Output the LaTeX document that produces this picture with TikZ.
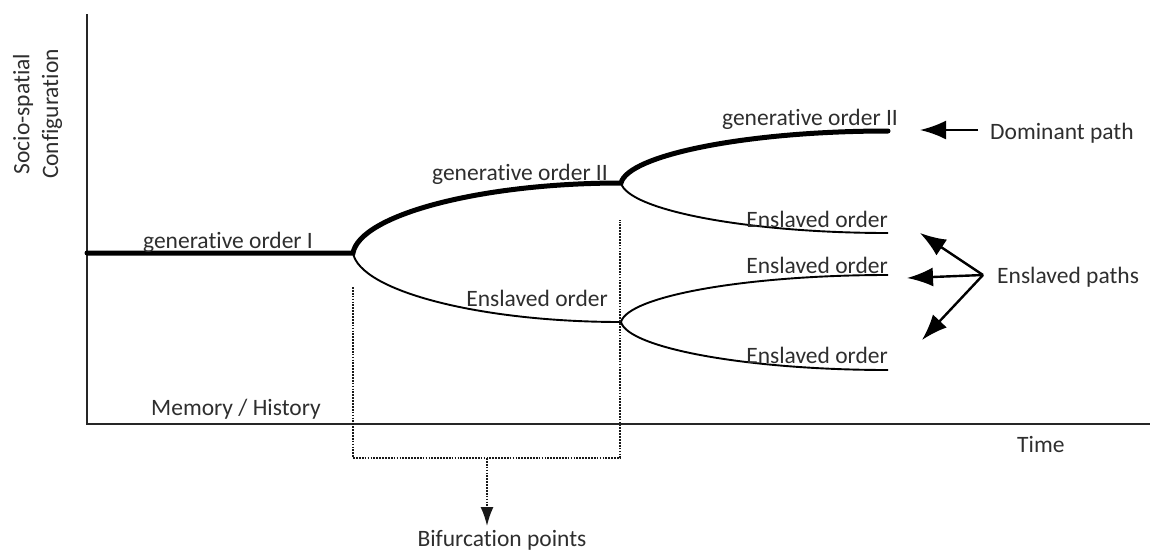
\documentclass[tikz,border=0pt]{standalone}
\usepackage{fontspec}
\setmainfont{Carlito}[Ligatures=NoCommon]
\usetikzlibrary{arrows.meta}
\begin{document}
\begin{tikzpicture}[x=1pt,y=-1pt,
  lbl/.style={text=black!82, font=\fontsize{23.5}{27}\selectfont, inner sep=0pt},
  axisline/.style={line width=1.5pt, draw=black!85},
  mainpath/.style={line width=5pt, line cap=round},
  sidepath/.style={line width=1.9pt},
  dotline/.style={line width=1.7pt, dash pattern=on 1.7pt off 1.2pt, draw=black!90},
  pointer/.style={line width=2.4pt, -{Latex[length=26pt,width=19pt]}},
]
\useasboundingbox (0,0) rectangle (1150,552);

% axes
\coordinate (ytop) at (87,14);
\coordinate (orig) at (87,424);
\coordinate (xend) at (1150,424);
\draw[axisline] (ytop) -- (orig) -- (xend);

% branching points and path ends
\coordinate (start) at (87,253);
\coordinate (b1)  at (353,253);
\coordinate (b2u) at (621,183);
\coordinate (b2l) at (621,322);
\coordinate (e1)  at (888,131);
\coordinate (e2)  at (888,233);
\coordinate (e3)  at (888,275);
\coordinate (e4)  at (888,370);

% dominant path
\draw[mainpath] (start) -- (b1)
  .. controls +(7,-38) and +(-141,0) .. (b2u)
  .. controls +(7,-28) and +(-141,0) .. (e1);
% enslaved paths
\draw[sidepath] (b1)  .. controls +(7,38)  and +(-141,0) .. (b2l);
\draw[sidepath] (b2u) .. controls +(7,27)  and +(-141,0) .. (e2);
\draw[sidepath] (b2l) .. controls +(7,-26) and +(-141,0) .. (e3);
\draw[sidepath] (b2l) .. controls +(7,26)  and +(-141,0) .. (e4);

% path labels
\node[lbl, anchor=base] (g1) at (228,248) {generative order I};
\node[lbl, anchor=base east] (g2) at (608,180) {generative order II};
\node[lbl, anchor=base east] (s1) at (608,306) {Enslaved order};
\node[lbl, anchor=base east] (g3) at (898,125) {generative order II};
\node[lbl, anchor=base east] (s2) at (888,227) {Enslaved order};
\node[lbl, anchor=base east] (s3) at (888,273) {Enslaved order};
\node[lbl, anchor=base east] (s4) at (888,363) {Enslaved order};

% axis labels
\node[lbl, rotate=90] (ylab1) at (23,114) {Socio-spatial};
\node[lbl, rotate=90] (ylab2) at (52,114) {Configuration};
\node[lbl, anchor=base] (mem) at (236,415) {Memory / History};
\node[lbl, anchor=base west] (time) at (1017,452) {Time};

% legend pointers
\node[lbl, anchor=base west] (dom) at (990,139) {Dominant path};
\coordinate (domtail) at (978,130);
\coordinate (domtip) at (920,130);
\draw[pointer] (domtail) -- (domtip);

\node[lbl, anchor=base west] (ens) at (997,283) {Enslaved paths};
\coordinate (hub) at (983,275);
\coordinate (tip1) at (920,233);
\coordinate (tip2) at (907,278);
\coordinate (tip3) at (922,340);
\draw[pointer] (hub) -- (tip1);
\draw[pointer] (hub) -- (tip2);
\draw[pointer] (hub) -- (tip3);

% bifurcation bracket
\coordinate (bl) at (353,287);
\coordinate (br) at (620,220);
\coordinate (bb) at (487,458);
\draw[dotline] (bl) -- (353,458) -- (620,458) -- (br);
\node[lbl, anchor=base] (bif) at (502,546) {Bifurcation points};
\draw[dotline, -{Latex[length=19pt,width=13pt]}] (bb) -- (487,526);
\end{tikzpicture}
\end{document}
